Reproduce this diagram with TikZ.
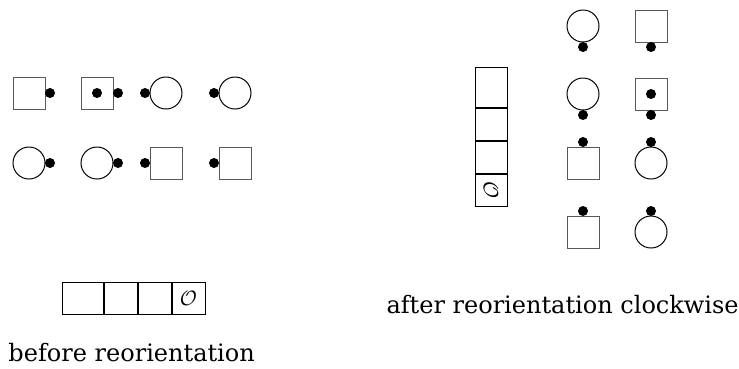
\documentclass[tikz,border=0pt]{standalone}
\usepackage{fontspec}
\setmainfont{DejaVu Serif}
\usetikzlibrary{positioning}
\definecolor{EdgeClr}{rgb}{0.35,0.35,0.35}

\begin{document}
\begin{tikzpicture}[x=1pt,y=-1pt,line width=1pt,
  sq/.style={draw=EdgeClr,minimum size=32pt,inner sep=0pt},
  circ/.style={circle,draw,minimum size=32pt,inner sep=0pt},
  dot/.style={circle,fill,minimum size=10pt,inner sep=0pt},
  cell/.style={draw,minimum width=33pt,minimum height=32pt,inner sep=0pt},
  caption/.style={font=\fontsize{24}{28}\selectfont,inner sep=0pt,anchor=base west}]
\useasboundingbox (0,0) rectangle (739,368);

% before reorientation
\node[sq] (A1) at (29,93) {};
\node[dot,right=-1pt of A1] (A1d) {};
\node[sq] (A2) at (97,93) {};
\node[dot] (A2c) at (A2) {};
\node[dot,right=-1pt of A2] (A2d) {};
\node[circ] (A3) at (166,93) {};
\node[dot,left=-1pt of A3] (A3d) {};
\node[circ] (A4) at (235,93) {};
\node[dot,left=-1pt of A4] (A4d) {};

\node[circ] (B1) at (29,163) {};
\node[dot,right=-1pt of B1] (B1d) {};
\node[circ] (B2) at (97,163) {};
\node[dot,right=-1pt of B2] (B2d) {};
\node[sq] (B3) at (166,163) {};
\node[dot,left=-1pt of B3] (B3d) {};
\node[sq] (B4) at (235,163) {};
\node[dot,left=-1pt of B4] (B4d) {};

\node[cell,minimum width=41pt] (h1) at (82.5,298) {};
\node[cell,right=0pt of h1] (h2) {};
\node[cell,right=0pt of h2] (h3) {};
\node[cell,right=0pt of h3,font=\fontsize{21}{21}\selectfont] (h4) {$\mathcal{O}$};

\node[caption] (before) at (8,361) {before reorientation};

% after reorientation
\node[cell,minimum width=32pt,minimum height=40pt] (v1) at (491,87) {};
\node[cell,minimum width=32pt,below=0pt of v1] (v2) {};
\node[cell,minimum width=32pt,below=0pt of v2] (v3) {};
\node[cell,minimum width=32pt,below=0pt of v3,font=\fontsize{21}{21}\selectfont] (v4) {\rotatebox{-90}{$\mathcal{O}$}};

\node[circ] (C1) at (583,26) {};
\node[dot,below=-1pt of C1] (C1d) {};
\node[sq] (C2) at (651,26) {};
\node[dot,below=-1pt of C2] (C2d) {};

\node[circ] (D1) at (583,94) {};
\node[dot,below=-1pt of D1] (D1d) {};
\node[sq] (D2) at (651,94) {};
\node[dot] (D2c) at (D2) {};
\node[dot,below=-1pt of D2] (D2d) {};

\node[sq] (E1) at (583,163) {};
\node[dot,above=-1pt of E1] (E1d) {};
\node[circ] (E2) at (651,163) {};
\node[dot,above=-1pt of E2] (E2d) {};

\node[sq] (F1) at (583,232) {};
\node[dot,above=-1pt of F1] (F1d) {};
\node[circ] (F2) at (651,232) {};
\node[dot,above=-1pt of F2] (F2d) {};

\node[caption] (after) at (386,313) {after reorientation clockwise};

\end{tikzpicture}
\end{document}
